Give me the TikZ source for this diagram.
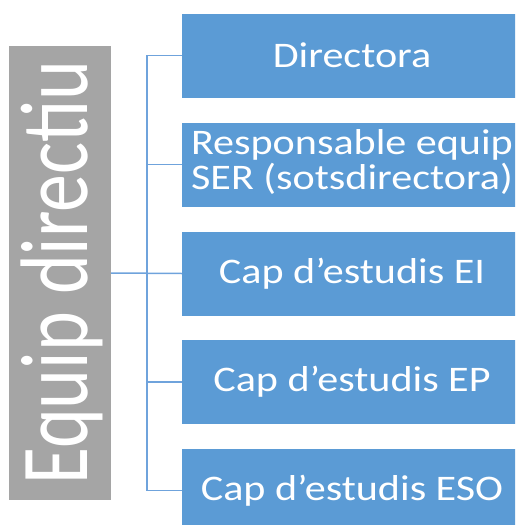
\documentclass[tikz,border=0pt]{standalone}
\usepackage{fontspec}
\setmainfont{Carlito}
\definecolor{boxblue}{HTML}{5B9BD5}
\definecolor{sidegray}{HTML}{A5A5A5}
\definecolor{connblue}{HTML}{6FA3DC}
\newcommand{\boxtxt}[1]{\scalebox{1.17}[1]{\fontsize{36}{34}\selectfont #1}}
\begin{document}
\begin{tikzpicture}[x=1pt,y=-1pt,
  orgbox/.style={rectangle, fill=boxblue, draw=none, text=white, inner sep=0pt,
    minimum width=340pt, minimum height=84pt, align=center},
  conn/.style={draw=connblue, line width=1.5pt}]
\useasboundingbox (0,0) rectangle (515,525);
\begin{scope}
\clip (0,0) rectangle (515,525);
\node[rectangle, fill=sidegray, minimum width=102pt, minimum height=454pt, inner sep=0pt] (side) at (60,273) {};
\node[rotate=90, anchor=base, text=white, inner sep=0pt] (sidetxt) at (87,272.5)
  {\scalebox{0.79}[1]{\fontsize{96}{96}\selectfont Equip directiu}};
\node[orgbox] (b1) at (352,55.5) {\boxtxt{Directora}};
\node[orgbox] (b2) at (352,164.5) {\boxtxt{\begin{tabular}{@{}c@{}}Responsable equip\\[-2pt]SER (sotsdirectora)\end{tabular}}};
\node[orgbox] (b3) at (352,273.5) {\boxtxt{Cap d’estudis EI}};
\node[orgbox] (b4) at (352,382) {\boxtxt{Cap d’estudis EP}};
\node[orgbox] (b5) at (352,490.5) {\boxtxt{Cap d’estudis ESO}};
\coordinate (trunk) at (147,273);
\draw[conn] (b1.west) -- (b1.west -| trunk) -- (b5.west -| trunk) -- (b5.west);
\draw[conn] (b2.west) -- (b2.west -| trunk);
\draw[conn] (b4.west) -- (b4.west -| trunk);
\draw[conn] (side.east |- trunk) -- (b3.west);
\end{scope}
\end{tikzpicture}
\end{document}
